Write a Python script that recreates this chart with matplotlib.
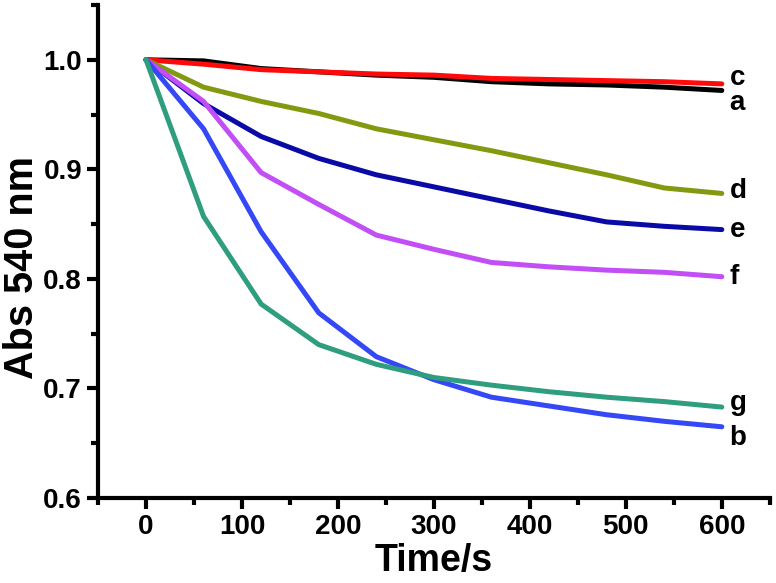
import numpy as np
import matplotlib
matplotlib.use("Agg")
import matplotlib.pyplot as plt
from matplotlib.ticker import MultipleLocator

plt.rcParams['font.family'] = ['Liberation Sans', 'DejaVu Sans']
plt.rcParams['font.weight'] = 'bold'

t = [0, 60, 120, 180, 240, 300, 360, 420, 480, 540, 600]
a = [1.0, 0.999, 0.992, 0.989, 0.986, 0.984, 0.980, 0.978, 0.977, 0.975, 0.972]
c = [1.0, 0.996, 0.991, 0.989, 0.987, 0.986, 0.983, 0.982, 0.981, 0.980, 0.978]
d = [1.0, 0.975, 0.962, 0.951, 0.937, 0.927, 0.917, 0.906, 0.895, 0.883, 0.878]
e = [1.0, 0.960, 0.930, 0.910, 0.895, 0.884, 0.873, 0.862, 0.852, 0.848, 0.845]
f = [1.0, 0.962, 0.897, 0.868, 0.840, 0.827, 0.815, 0.811, 0.808, 0.806, 0.802]
g = [1.0, 0.857, 0.777, 0.740, 0.722, 0.710, 0.703, 0.697, 0.692, 0.688, 0.683]
b = [1.0, 0.937, 0.843, 0.769, 0.729, 0.708, 0.692, 0.684, 0.676, 0.670, 0.665]

names = ['a', 'c', 'd', 'e', 'f', 'b', 'g']
series = [a, c, d, e, f, b, g]
colors = ['#000000', '#ff0a0a', '#829a10', '#0a0aa6', '#c24ef5', '#3448f5', '#2e9e7e']
label_y = {'c': 0.983, 'a': 0.961, 'd': 0.880, 'e': 0.845, 'f': 0.802, 'g': 0.687, 'b': 0.655}

fig = plt.figure(figsize=(7.76, 5.83), dpi=100)
ax = fig.add_axes([0.1263, 0.1458, 0.8657, 0.8456])

for name, ys, col in zip(names, series, colors):
    ax.plot(t, ys, color=col, lw=3.6, solid_capstyle='round', solid_joinstyle='round')
    ax.text(608, label_y[name], name, fontsize=20, fontweight='bold', va='center', ha='left')

ax.set_xlim(-50, 650)
ax.set_ylim(0.6, 1.05)
ax.xaxis.set_minor_locator(MultipleLocator(50))
ax.yaxis.set_minor_locator(MultipleLocator(0.05))
ax.set_xticks([0, 100, 200, 300, 400, 500, 600])
ax.set_yticks([0.6, 0.7, 0.8, 0.9, 1.0])
ax.yaxis.set_major_formatter(plt.FormatStrFormatter('%.1f'))

for s in ['top', 'right']:
    ax.spines[s].set_visible(False)
for s in ['left', 'bottom']:
    ax.spines[s].set_linewidth(3)
ax.tick_params(which='major', length=8, width=3, labelsize=20, direction='out')
ax.tick_params(which='minor', length=5, width=3, direction='out')
for lbl in ax.get_xticklabels() + ax.get_yticklabels():
    lbl.set_fontweight('bold')

ax.set_xlabel('Time/s', fontsize=27, fontweight='bold', labelpad=2)
ax.set_ylabel('Abs 540 nm', fontsize=28.5, fontweight='bold')
ax.yaxis.set_label_coords(-0.085, 0.468)

fig.savefig('out.png', dpi=100)
